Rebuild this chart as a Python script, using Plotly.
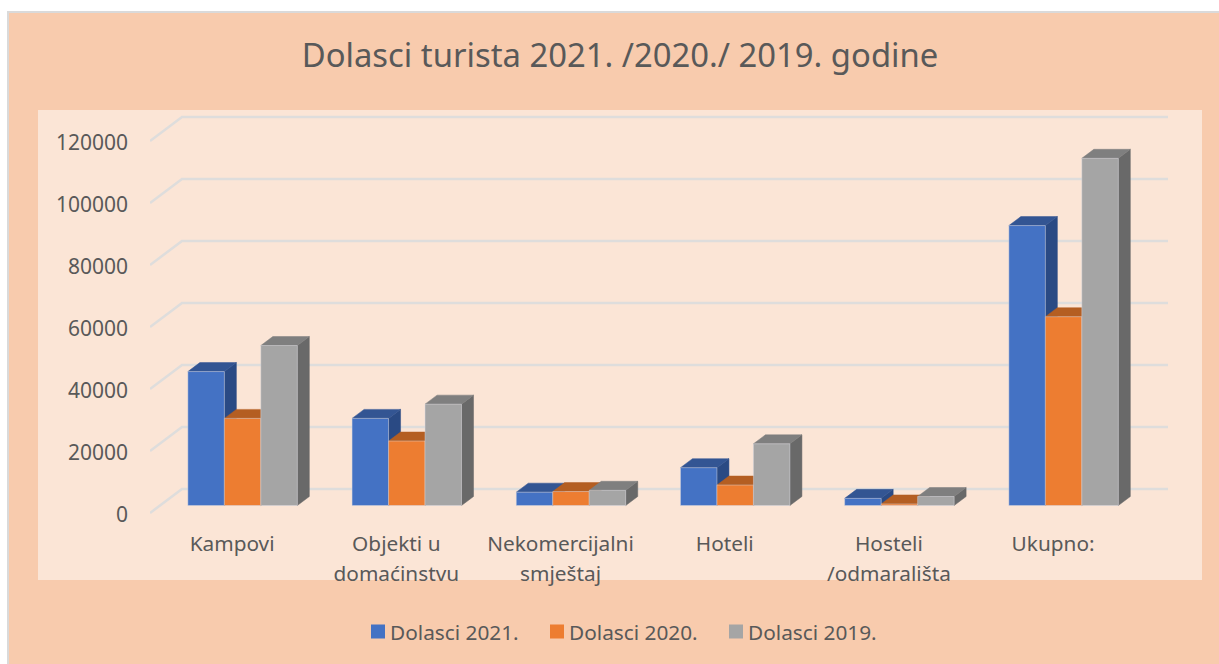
import plotly.graph_objects as go

W, H = 1219, 664

categories = ["Kampovi", "Objekti u<br>domaćinstvu", "Nekomercijalni<br>smještaj", "Hoteli", "Hosteli<br>/odmarališta", "Ukupno:"]
dolasci_2021 = [43200, 28100, 4300, 12200, 2300, 90300]
dolasci_2020 = [28100, 20800, 4500, 6600, 500, 60900]
dolasci_2019 = [51600, 32700, 4900, 19900, 2900, 112000]
y_ticks = [0, 20000, 40000, 60000, 80000, 100000, 120000]

series = [
    ("Dolasci 2021.", dolasci_2021, "#4472C4", "#335593", "#2A4A84"),
    ("Dolasci 2020.", dolasci_2020, "#ED7D31", "#B45E22", "#A4551E"),
    ("Dolasci 2019.", dolasci_2019, "#A5A5A5", "#7F7F7F", "#696969"),
]

# geometry of the pseudo-3D scene (pixels)
PLOT_L, PLOT_R, PLOT_T, PLOT_B = 150, 1168, 113, 516
ZERO_PX = 513                  # pixel row of value 0 on the front plane
CAT_PX = 164.2
PX_PER_UNIT = 0.0031
WALL_DX, WALL_DY = 32, 24      # front plane -> back wall
BAR_DX, BAR_DY = 12, 9         # depth of a bar
SHIFT_X, SHIFT_Y = 10.5, 7.5   # front plane -> front of the bars
GAP = 1 / 3
BAR_W = (1 - GAP) / 3

ux = lambda px: px / CAT_PX
uy = lambda px: px / PX_PER_UNIT
x_range = [-0.5, -0.5 + ux(PLOT_R - PLOT_L)]
y_range = [uy(ZERO_PX - PLOT_B), uy(ZERO_PX - PLOT_T)]
px_x = lambda p: (p - PLOT_L) / (PLOT_R - PLOT_L)
px_y = lambda p: (PLOT_B - p) / (PLOT_B - PLOT_T)

fig = go.Figure()

# gridlines: oblique piece on the side wall, then along the back wall
for t in y_ticks:
    fig.add_trace(go.Scatter(
        x=[x_range[0], x_range[0] + ux(WALL_DX), x_range[1]],
        y=[t, t + uy(WALL_DY), t + uy(WALL_DY)],
        mode="lines", line=dict(color="#DEDDDC", width=2.5),
        hoverinfo="skip", showlegend=False))

# side and top faces of the boxes
sx, sy = ux(SHIFT_X), uy(SHIFT_Y)
dx, dy = ux(BAR_DX), uy(BAR_DY)
for s, (name, vals, front, top, side) in enumerate(series):
    for i, v in enumerate(vals):
        left = i + sx - 1.5 * BAR_W + s * BAR_W
        right = left + BAR_W
        # y axis here has 0 at the front plane; the bars stand SHIFT_Y further back
        yb, yt = sy, sy + v
        fig.add_trace(go.Scatter(
            x=[right, right + dx, right + dx, right, right],
            y=[yb, yb + dy, yt + dy, yt, yb],
            mode="lines", fill="toself", fillcolor=side, line=dict(color=side, width=0.5),
            hoverinfo="skip", showlegend=False))
        fig.add_trace(go.Scatter(
            x=[left, left + dx, right + dx, right, left],
            y=[yt, yt + dy, yt + dy, yt, yt],
            mode="lines", fill="toself", fillcolor=top, line=dict(color=top, width=0.5),
            hoverinfo="skip", showlegend=False))

# front faces: real bars on an overlay axis pair whose zero sits at the bar floor
positions = list(range(len(categories)))
for name, vals, front, top, side in series:
    fig.add_trace(go.Bar(
        x=positions, y=vals, name=name, xaxis="x2", yaxis="y2",
        marker=dict(color=front, line=dict(color="rgba(215,215,225,0.45)", width=1)),
    ))

FONT = "Noto Sans"
TXT = "#595959"
tick_text = ['<span style="font-size:20.8px">' + c + "</span>" for c in categories]

shapes = [
    dict(type="rect", xref="paper", yref="paper", layer="below",
         x0=px_x(8), x1=px_x(1230), y0=px_y(675), y1=px_y(12),
         fillcolor="#F8CBAD", line=dict(color="#DADADA", width=2)),
    dict(type="rect", xref="paper", yref="paper", layer="below",
         x0=px_x(38), x1=px_x(1202), y0=px_y(580), y1=px_y(110),
         fillcolor="#FBE5D6", line=dict(width=0)),
]

fig.update_layout(
    width=W, height=H, autosize=False,
    margin=dict(l=PLOT_L, r=W - PLOT_R, t=PLOT_T, b=H - PLOT_B, pad=0),
    paper_bgcolor="white", plot_bgcolor="rgba(0,0,0,0)",
    font=dict(family=FONT, color=TXT),
    barmode="group", bargap=GAP, bargroupgap=0,
    title=dict(text="Dolasci turista 2021. /2020./ 2019. godine",
               x=620 / W, xanchor="center", xref="container",
               y=1 - 56 / H, yanchor="middle", yref="container",
               font=dict(family=FONT, size=32.8, color=TXT)),
    xaxis=dict(range=x_range, tickmode="array", tickvals=positions, ticktext=tick_text,
               showgrid=False, zeroline=False, showline=False, ticks="",
               tickangle=0, tickfont=dict(family=FONT, size=23, color=TXT), ticklabelstandoff=11),
    yaxis=dict(range=y_range, tickmode="array", tickvals=y_ticks, tickformat="d",
               showgrid=False, zeroline=False, showline=False, ticks="",
               tickfont=dict(family=FONT, size=21, color=TXT), ticklabelstandoff=21, ticklabelshift=2),
    xaxis2=dict(overlaying="x", range=[x_range[0] - sx, x_range[1] - sx], visible=False),
    yaxis2=dict(overlaying="y", range=[y_range[0] - sy, y_range[1] - sy], visible=False),
    legend=dict(orientation="h", x=px_x(358), y=px_y(632), xanchor="left", yanchor="middle",
                font=dict(family=FONT, size=20.8, color=TXT),
                entrywidthmode="pixels", entrywidth=134, bgcolor="rgba(0,0,0,0)", traceorder="normal"),
    shapes=shapes,
    showlegend=True,
    hovermode=False,
)

post = """
document.body.style.margin='0';
document.querySelectorAll('.legendtext').forEach(function(t){t.setAttribute('x', parseFloat(t.getAttribute('x'))-8);});
document.querySelectorAll('.legendpoints path').forEach(function(p){p.setAttribute('d','M7,7H-7V-7H7Z');p.style.strokeWidth='0';});
"""
fig.write_html("out.html", post_script=post, config={"displayModeBar": False})
